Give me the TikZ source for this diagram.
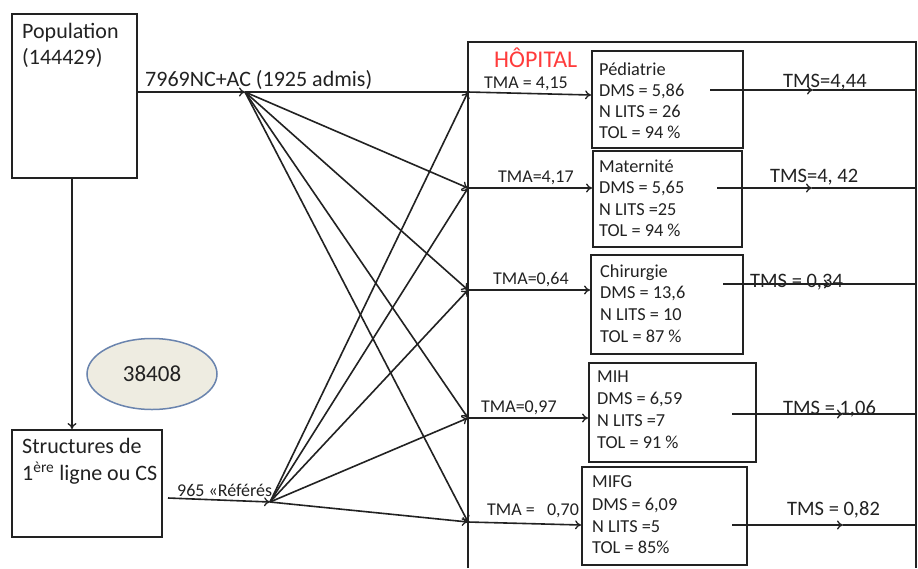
\documentclass[tikz,border=0pt]{standalone}
\usepackage{fontspec}
\setmainfont{Carlito}
\usetikzlibrary{arrows.meta,shapes.geometric}
\definecolor{ink}{HTML}{222222}
\definecolor{ellfill}{HTML}{EEECE1}
\definecolor{elldraw}{HTML}{6A84AE}
\definecolor{hosred}{HTML}{FF3B3B}
\tikzset{
  box/.style={draw=ink, line width=1.9pt, inner sep=0pt},
  ln/.style={draw=ink, line width=1.6pt},
  arr/.style={ln, -{To[length=6pt,width=9pt,line width=1.3pt]}},
  txt/.style={anchor=base west, inner sep=0pt, text=ink},
  big/.style={txt, font=\fontsize{22}{26}\selectfont},
  dep/.style={txt, font=\fontsize{18.3}{21}\selectfont},
  tma/.style={txt, font=\fontsize{18}{21}\selectfont},
  tms/.style={txt, font=\fontsize{20.5}{24}\selectfont},
}
\begin{document}
\begin{tikzpicture}[x=1pt,y=-1pt]
\useasboundingbox (0,0) rectangle (918,568);
\fill[white] (0,0) rectangle (918,568);

% Population box
\node[box, minimum width=125pt, minimum height=164pt] (pop) at (74.5,96) {};
\node[big] (popt1) at (22,38) {Population};
\node[big] (popt2) at (22,64) {(144429)};

% Structures box
\node[box, minimum width=150pt, minimum height=107pt] (cs) at (87,483.5) {};
\node[big] (cst1) at (22,453) {Structures de};
\node[big] (cst2) at (22,480) {1\textsuperscript{ère} ligne ou CS};

% ellipse
\node[ellipse, draw=elldraw, fill=ellfill, line width=1.5pt, minimum width=130pt, minimum height=71pt, inner sep=0pt,
      font=\fontsize{23}{27}\selectfont, text=ink] (ell) at (152,374) {38408};

% population -> structures
\draw[arr] (pop.south -| 72,0) -- (cs.north -| 72,0);

% hubs
\coordinate (A) at (245,92);
\coordinate (B) at (270,502);
\coordinate (popout) at (137,92);
\coordinate (csout) at (168,498);
\draw[arr] (popout) -- (A);
\draw[arr] (csout) -- (B);
\node[big] (lblA) at (145,86) {7969NC+AC (1925 admis)};
\node[tma] (lblB) at (177,496) {965 «Référés};

% hospital frame
\draw[box] (468,568) -- (468,42) -- (916,42) -- (916,568);
\node[txt, font=\fontsize{24}{28}\selectfont, text=hosred] (hop) at (494,67) {HÔPITAL};

% wall entry points
\coordinate (w1) at (468,92);
\coordinate (w2) at (468,188);
\coordinate (w3) at (468,290);
\coordinate (w4) at (468,418);
\coordinate (w5) at (468,522);

% fans
\draw[ln] (A) -- (w1);
\foreach \w in {w2,w3,w4,w5} \draw[arr] (A) -- (\w);
\foreach \w in {w1,w2,w3,w4,w5} \draw[arr] (B) -- (\w);

% department boxes
\node[box, minimum width=151pt, minimum height=97pt] (ped) at (667.5,99.5) {};
\node[box, minimum width=149pt, minimum height=96pt] (mat) at (667.5,199) {};
\node[box, minimum width=152pt, minimum height=99pt] (chi) at (667,304.5) {};
\node[box, minimum width=167pt, minimum height=99pt] (mih) at (672.5,412.5) {};
\node[box, minimum width=165pt, minimum height=98pt] (mifg) at (664.5,516) {};

\node[dep] (p1) at (599,75) {Pédiatrie};
\node[dep] (p2) at (599,96) {DMS = 5,86};
\node[dep] (p3) at (599,117) {N LITS = 26};
\node[dep] (p4) at (599,138) {TOL = 94 \%};

\node[dep] (m1) at (599,172) {Maternité};
\node[dep] (m2) at (599,193) {DMS = 5,65};
\node[dep] (m3) at (599,215) {N LITS =25};
\node[dep] (m4) at (599,236) {TOL = 94 \%};

\node[dep] (c1) at (600,277) {Chirurgie};
\node[dep] (c2) at (600,298) {DMS = 13,6};
\node[dep] (c3) at (600,320) {N LITS = 10};
\node[dep] (c4) at (600,342) {TOL = 87 \%};

\node[dep] (h1) at (597,382) {MIH};
\node[dep] (h2) at (597,404) {DMS = 6,59};
\node[dep] (h3) at (597,426) {N LITS =7};
\node[dep] (h4) at (597,448) {TOL = 91 \%};

\node[dep] (f1) at (592,487) {MIFG};
\node[dep] (f2) at (592,510) {DMS = 6,09};
\node[dep] (f3) at (592,532) {N LITS =5};
\node[dep] (f4) at (592,553) {TOL = 85\%};

% TMA arrows
\draw[arr] (w1) -- (ped.west |- 0,95);
\draw[arr] (w2) -- (mat.west |- w2);
\draw[arr] (w3) -- (chi.west |- w3);
\draw[arr] (w4) -- (mih.west |- w4);
\draw[arr] (w5) -- (mifg.west |- 0,525);
\node[tma] (tma1) at (484,88) {TMA = 4,15};
\node[tma] (tma2) at (498,182) {TMA=4,17};
\node[tma] (tma3) at (493,284) {TMA=0,64};
\node[tma] (tma4) at (481,412) {TMA=0,97};
\node[tma] (tma5) at (487,515) {TMA =\ \ \ 0,70};

% TMS arrows
\coordinate (s1) at (710,90);  \coordinate (n1) at (813,90);  \coordinate (e1) at (916,90);
\coordinate (s2) at (717,188); \coordinate (n2) at (812,188); \coordinate (e2) at (916,188);
\coordinate (s3) at (723,284); \coordinate (n3) at (830,284); \coordinate (e3) at (916,284);
\coordinate (s4) at (732,414); \coordinate (n4) at (843,414); \coordinate (e4) at (916,414);
\coordinate (s5) at (732,525); \coordinate (n5) at (843,525); \coordinate (e5) at (916,525);
\foreach \i in {1,...,5} {\draw[arr] (s\i) -- (n\i); \draw[ln] (n\i) -- (e\i);}
\node[tms] (tms1) at (783,87) {TMS=4,44};
\node[tms] (tms2) at (770,182) {TMS=4, 42};
\node[tms] (tms3) at (750,287) {TMS = 0,34};
\node[tms] (tms4) at (783,414) {TMS = 1,06};
\node[tms] (tms5) at (787,515) {TMS = 0,82};
\end{tikzpicture}
\end{document}
